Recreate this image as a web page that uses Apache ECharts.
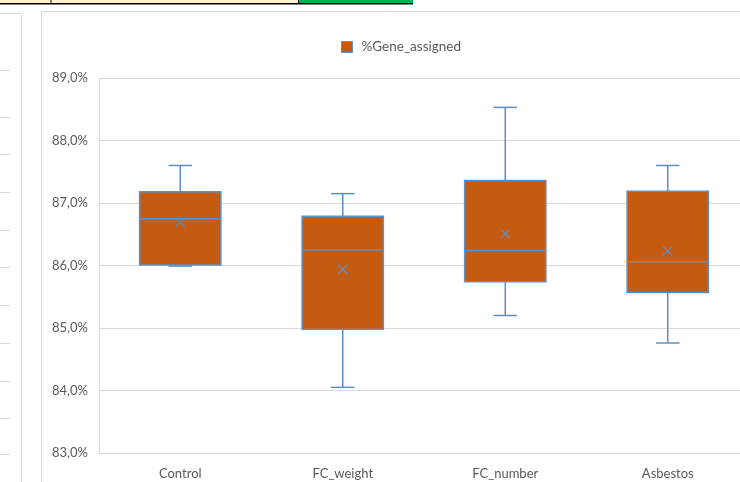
<!DOCTYPE html>
<html>
<head>
<meta charset="utf-8">
<title>%Gene_assigned</title>
<script src="https://cdn.jsdelivr.net/npm/echarts@6/dist/echarts.min.js"></script>
<style>
  html, body { margin: 0; padding: 0; background: #ffffff; }
  #chart { width: 740px; height: 482px; }
</style>
</head>
<body>
<div id="chart"></div>
<script>
// Groups on the x axis
const categories = ['Control', 'FC_weight', 'FC_number', 'Asbestos'];
// Five-number summary per group (percent) plus the mean
const minVals    = [85.99, 84.05, 85.20, 84.76];
const q1Vals     = [86.01, 84.98, 85.74, 85.57];
const medianVals = [86.75, 86.25, 86.24, 86.06];
const q3Vals     = [87.18, 86.79, 87.36, 87.19];
const maxVals    = [87.60, 87.15, 88.53, 87.60];
const meanVals   = [86.69, 85.94, 86.51, 86.23];
// Y axis range and step
const yTicks = [83, 84, 85, 86, 87, 88, 89];

const seriesName = '%Gene_assigned';
const boxFill = '#C55A11';
const lineBlue = '#5F8FC4';
const gridGrey = '#D9D9D9';
const textGrey = '#595959';
const fontFamily = 'Lato, "Open Sans", sans-serif';

const rows = categories.map((c, i) => [i, minVals[i], q1Vals[i], medianVals[i], q3Vals[i], maxVals[i], meanVals[i]]);

function renderBox(params, api) {
  const x = api.value(0);
  const pMin = api.coord([x, api.value(1)]);
  const pQ1 = api.coord([x, api.value(2)]);
  const pMed = api.coord([x, api.value(3)]);
  const pQ3 = api.coord([x, api.value(4)]);
  const pMax = api.coord([x, api.value(5)]);
  const pMean = api.coord([x, api.value(6)]);
  const band = api.size([1, 0])[0];
  const bw = band * 0.5;
  const cap = band * 0.145;
  const cx = pMed[0];
  const lineStyle = { stroke: lineBlue, lineWidth: 1.5 };
  const m = 4.5;
  return {
    type: 'group',
    children: [
      { type: 'line', shape: { x1: cx, y1: pMax[1], x2: cx, y2: pQ3[1] }, style: lineStyle },
      { type: 'line', shape: { x1: cx, y1: pQ1[1], x2: cx, y2: pMin[1] }, style: lineStyle },
      { type: 'line', shape: { x1: cx - cap / 2, y1: pMax[1], x2: cx + cap / 2, y2: pMax[1] }, style: lineStyle },
      { type: 'line', shape: { x1: cx - cap / 2, y1: pMin[1], x2: cx + cap / 2, y2: pMin[1] }, style: lineStyle },
      { type: 'rect', shape: { x: cx - bw / 2, y: pQ3[1], width: bw, height: pQ1[1] - pQ3[1] },
        style: { fill: boxFill, stroke: lineBlue, lineWidth: 1.5 } },
      { type: 'line', shape: { x1: cx - bw / 2, y1: pMed[1], x2: cx + bw / 2, y2: pMed[1] }, style: lineStyle },
      { type: 'line', shape: { x1: cx - m, y1: pMean[1] - m, x2: cx + m, y2: pMean[1] + m }, style: { stroke: lineBlue, lineWidth: 1.3 } },
      { type: 'line', shape: { x1: cx - m, y1: pMean[1] + m, x2: cx + m, y2: pMean[1] - m }, style: { stroke: lineBlue, lineWidth: 1.3 } }
    ]
  };
}

// Surrounding sheet furniture: cell strip on top and the neighbouring chart frame
const frame = [
  { type: 'rect', shape: { x: 0, y: 0, width: 299, height: 3.5 }, style: { fill: '#FFF2CC' } },
  { type: 'rect', shape: { x: 299, y: 0, width: 114, height: 3.5 }, style: { fill: '#00B050' } },
  { type: 'line', shape: { x1: 0, y1: 3.8, x2: 413, y2: 3.8 }, style: { stroke: '#000', lineWidth: 1.5 } },
  { type: 'line', shape: { x1: 51, y1: 0, x2: 51, y2: 4 }, style: { stroke: '#000', lineWidth: 1 } },
  { type: 'line', shape: { x1: 298.5, y1: 0, x2: 298.5, y2: 4 }, style: { stroke: '#000', lineWidth: 1 } },
  { type: 'line', shape: { x1: 0, y1: 13.5, x2: 21.5, y2: 13.5 }, style: { stroke: gridGrey, lineWidth: 1 } },
  { type: 'line', shape: { x1: 21.5, y1: 13.5, x2: 21.5, y2: 482 }, style: { stroke: gridGrey, lineWidth: 1 } },
  { type: 'line', shape: { x1: 41.5, y1: 11.5, x2: 740, y2: 11.5 }, style: { stroke: gridGrey, lineWidth: 1 } },
  { type: 'line', shape: { x1: 41.5, y1: 11.5, x2: 41.5, y2: 482 }, style: { stroke: gridGrey, lineWidth: 1 } }
];
[70, 117, 154, 192, 230, 267, 305, 343, 381, 418, 454].forEach(y => {
  frame.push({ type: 'line', shape: { x1: 0, y1: y + 0.5, x2: 10, y2: y + 0.5 }, style: { stroke: gridGrey, lineWidth: 1 } });
});

const chart = echarts.init(document.getElementById('chart'), null, { renderer: 'canvas' });
chart.setOption({
  animation: false,
  backgroundColor: '#ffffff',
  textStyle: { fontFamily: fontFamily },
  graphic: frame,
  legend: {
    left: 336,
    top: 35,
    itemWidth: 11,
    itemHeight: 11,
    data: [{ name: seriesName, icon: 'rect', itemStyle: { color: boxFill, borderColor: lineBlue, borderWidth: 1 } }],
    textStyle: { color: textGrey, fontSize: 13.5, fontFamily: fontFamily, padding: [0, 0, 0, 4] }
  },
  grid: { left: 99, width: 650, top: 78, bottom: 29, containLabel: false, outerBoundsMode: 'none' },
  xAxis: {
    type: 'category',
    data: categories,
    boundaryGap: true,
    axisLine: { show: true, lineStyle: { color: gridGrey, width: 1 } },
    axisTick: { show: false },
    axisLabel: { color: textGrey, fontSize: 13, margin: 14, fontFamily: fontFamily },
    splitLine: { show: false }
  },
  yAxis: {
    type: 'value',
    min: yTicks[0],
    max: yTicks[yTicks.length - 1],
    interval: 1,
    axisLine: { show: true, lineStyle: { color: gridGrey, width: 1 } },
    axisTick: { show: false },
    axisLabel: {
      color: textGrey, fontSize: 13, margin: 11, fontFamily: fontFamily,
      formatter: v => v.toFixed(1).replace('.', ',') + '%'
    },
    splitLine: { show: true, lineStyle: { color: gridGrey, width: 1 } }
  },
  series: [{
    name: seriesName,
    type: 'custom',
    renderItem: renderBox,
    itemStyle: { color: boxFill },
    encode: { x: 0, y: [1, 2, 3, 4, 5] },
    data: rows,
    clip: false
  }]
});
</script>
</body>
</html>
